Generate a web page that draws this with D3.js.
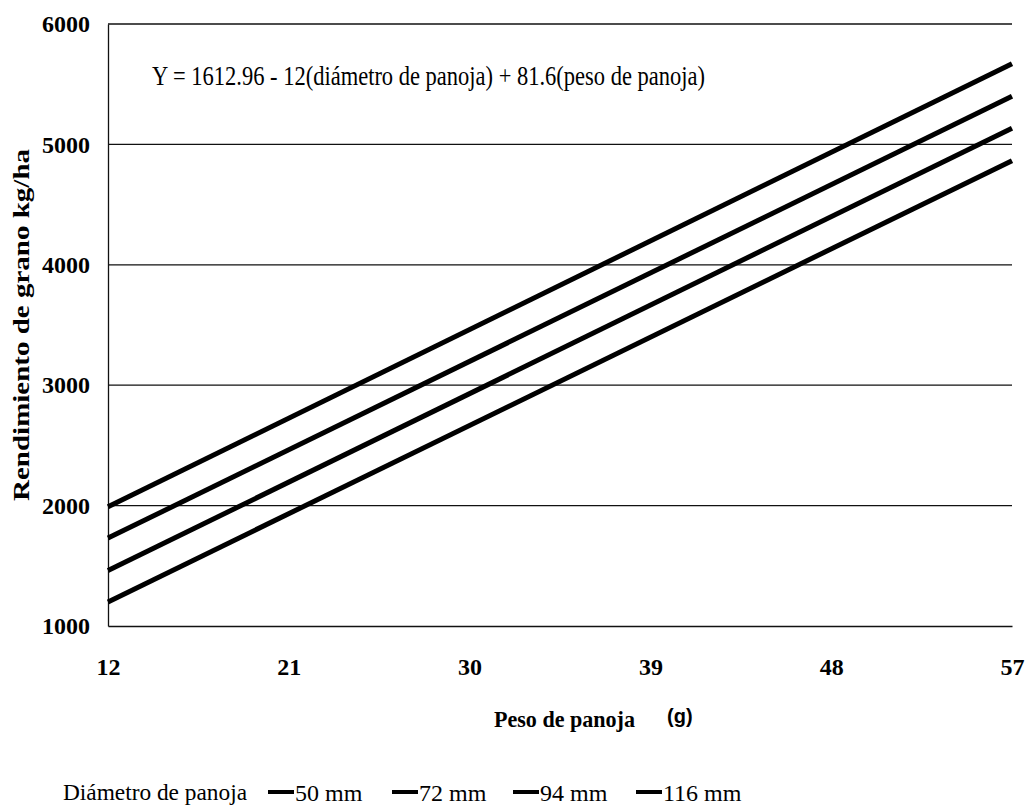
<!DOCTYPE html>
<html>
<head>
<meta charset="utf-8">
<script src="https://cdn.jsdelivr.net/npm/d3@7"></script>
<style>
  html, body { margin: 0; padding: 0; background: #fff; }
  svg { display: block; }
</style>
</head>
<body>
<svg id="chart" width="1035" height="807"></svg>
<script>
// ---- data ----
const xValues = [12, 57];                         // Peso de panoja (g)
const seriesNames = ["50 mm", "72 mm", "94 mm", "116 mm"];
const series50  = [1990, 5670];
const series72  = [1730, 5400];
const series94  = [1460, 5135];
const series116 = [1200, 4865];
const xTicks = [12, 21, 30, 39, 48, 57];
const yTicks = [1000, 2000, 3000, 4000, 5000, 6000];
const equation = "Y = 1612.96 - 12(diámetro de panoja) + 81.6(peso de panoja)";
const yTitle = "Rendimiento de grano kg/ha";
const xTitle = "Peso de panoja";
const xUnit = "(g)";
const legendTitle = "Diámetro de panoja";

const allSeries = [series50, series72, series94, series116];

(function () {
const SERIF = '"Liberation Serif", "Times New Roman", "DejaVu Serif", serif';
const SANS = '"Liberation Sans", Arial, sans-serif';
const svg = d3.select("#chart");
const pLeft = 108, pRight = 1012, pTop = 24, pBottom = 626;

const x = d3.scaleLinear().domain([12, 57]).range([pLeft, pRight]);
const y = d3.scaleLinear().domain([1000, 6000]).range([pBottom, pTop]);

// gridlines
svg.append("g").selectAll("line")
  .data(yTicks.filter(d => d > 1000))
  .join("line")
  .attr("x1", pLeft).attr("x2", pRight)
  .attr("y1", d => y(d)).attr("y2", d => y(d))
  .attr("stroke", "#111").attr("stroke-width", 1.3);

// axes
const yAxis = d3.axisLeft(y).tickValues(yTicks).tickSize(0).tickPadding(18).tickFormat(d3.format("d"));
const gy = svg.append("g").attr("transform", `translate(${pLeft},0)`).call(yAxis);
gy.select(".domain").attr("stroke", "#111").attr("stroke-width", 1.3);
gy.selectAll("text")
  .style("font-family", SERIF).style("fill", "#000")
  .style("font-size", "24px").style("font-weight", "bold");

const xAxis = d3.axisBottom(x).tickValues(xTicks).tickSize(0).tickPadding(32).tickFormat(d3.format("d"));
const gx = svg.append("g").attr("transform", `translate(0,${pBottom})`).call(xAxis);
gx.select(".domain").attr("stroke", "#111").attr("stroke-width", 1.3);
gx.selectAll("text")
  .style("font-family", SERIF).style("fill", "#000")
  .style("font-size", "24px").style("font-weight", "bold");

// lines
const line = d3.line().x((d, i) => x(xValues[i])).y(d => y(d));
svg.append("g").selectAll("path")
  .data(allSeries)
  .join("path")
  .attr("d", d => line(d))
  .attr("fill", "none")
  .attr("stroke", "#000")
  .attr("stroke-width", 5)
  .attr("stroke-linecap", "butt");

// equation
svg.append("text")
  .attr("x", 152).attr("y", 85)
  .attr("textLength", 553).attr("lengthAdjust", "spacingAndGlyphs")
  .style("font-family", SERIF).style("font-size", "27px")
  .text(equation);

// y title
svg.append("text")
  .attr("transform", `translate(29,${(pTop + pBottom) / 2}) rotate(-90)`)
  .attr("text-anchor", "middle")
  .attr("textLength", 352).attr("lengthAdjust", "spacingAndGlyphs")
  .style("font-family", SERIF).style("font-size", "24px").style("font-weight", "bold")
  .text(yTitle);

// x title
svg.append("text")
  .attr("x", 494).attr("y", 727)
  .attr("textLength", 141).attr("lengthAdjust", "spacingAndGlyphs")
  .style("font-family", SERIF).style("font-size", "23px").style("font-weight", "bold")
  .text(xTitle);
svg.append("text")
  .attr("x", 667).attr("y", 723)
  .style("font-family", SANS)
  .style("font-size", "20px").style("font-weight", "bold")
  .text(xUnit);

// legend
const lg = svg.append("g");
lg.append("text")
  .attr("x", 63).attr("y", 800)
  .attr("textLength", 184).attr("lengthAdjust", "spacingAndGlyphs")
  .style("font-family", SERIF).style("font-size", "24px")
  .text(legendTitle);
const itemStarts = [268, 392, 513, 636];
const items = lg.selectAll("g.item").data(seriesNames).join("g")
  .attr("class", "item")
  .attr("transform", (d, i) => `translate(${itemStarts[i]},0)`);
items.append("line")
  .attr("x1", 0).attr("x2", 26).attr("y1", 792).attr("y2", 792)
  .attr("stroke", "#000").attr("stroke-width", 4);
items.append("text")
  .attr("x", 27).attr("y", 801)
  .style("font-family", SERIF).style("font-size", "24px")
  .text(d => d);
})();
</script>
</body>
</html>
